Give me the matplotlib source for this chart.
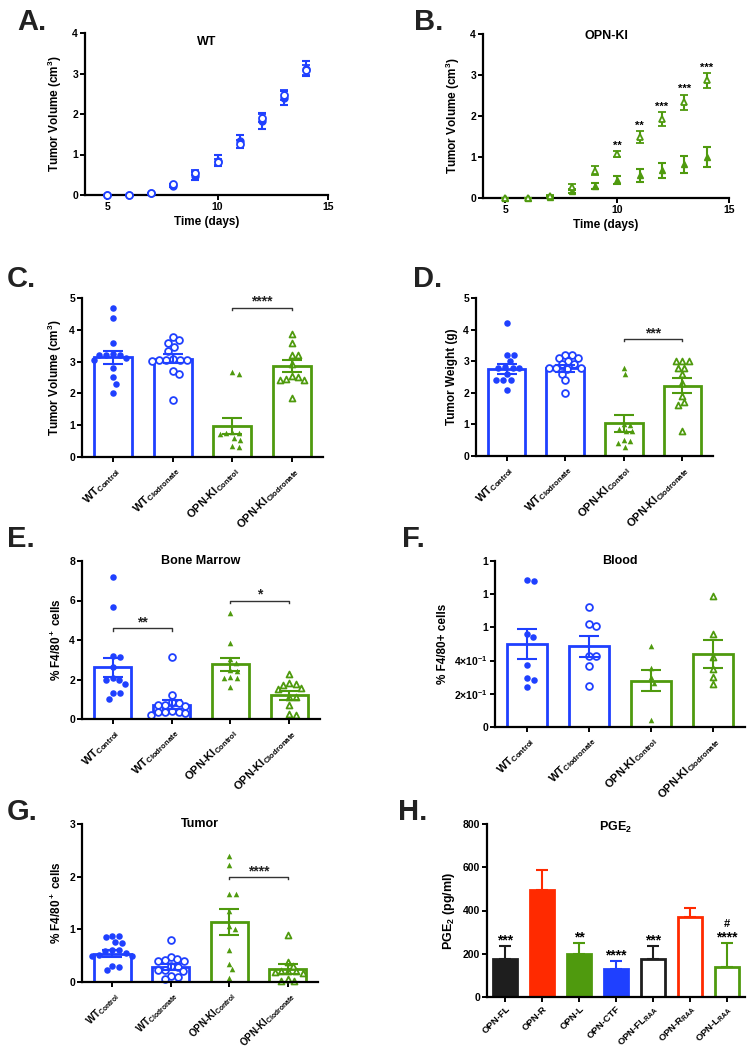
import numpy as np
import matplotlib
matplotlib.use("Agg")
import matplotlib.pyplot as plt

# Fuentes (todo en negrita, estilo GraphPad)
plt.rcParams['font.family'] = ['Liberation Sans', 'DejaVu Sans']
plt.rcParams['font.weight'] = 'bold'
plt.rcParams['axes.labelweight'] = 'bold'
plt.rcParams['mathtext.fontset'] = 'custom'
plt.rcParams['mathtext.rm'] = 'Liberation Sans:bold'
plt.rcParams['mathtext.bf'] = 'Liberation Sans:bold'
plt.rcParams['mathtext.it'] = 'Liberation Sans:bold:italic'
plt.rcParams['mathtext.default'] = 'rm'

AZUL = '#1f40ff'
VERDE = '#4f9a0e'
ROJO = '#ff2a00'
NEGRO = '#1e1e1e'

# ---------------- Datos ----------------
# A / B: crecimiento tumoral
dias = [5, 6, 7, 8, 9, 10, 11, 12, 13, 14]
wt_control_vol = [0, 0, 0.05, 0.22, 0.48, 0.85, 1.33, 1.82, 2.40, 3.12]
wt_control_sem = [0, 0, 0.01, 0.03, 0.10, 0.13, 0.16, 0.20, 0.18, 0.19]
wt_clod_vol = [0, 0, 0.04, 0.26, 0.55, 0.82, 1.26, 1.90, 2.47, 3.08]
wt_clod_sem = [0, 0, 0.01, 0.02, 0.06, 0.07, 0.10, 0.10, 0.12, 0.12]
ki_control_vol = [0, 0, 0.03, 0.16, 0.30, 0.44, 0.55, 0.68, 0.82, 1.00]
ki_control_sem = [0, 0, 0.01, 0.04, 0.07, 0.09, 0.15, 0.18, 0.21, 0.25]
ki_clod_vol = [0, 0, 0.05, 0.28, 0.67, 1.07, 1.48, 1.93, 2.33, 2.87]
ki_clod_sem = [0, 0, 0.02, 0.05, 0.12, 0.08, 0.15, 0.17, 0.19, 0.18]
ki_sig = ['', '', '', '', '', '**', '**', '***', '***', '***']

grupos = [r'WT$_{Control}$', r'WT$_{Clodronate}$',
          r'OPN-KI$_{Control}$', r'OPN-KI$_{Clodronate}$']

# C: volumen tumoral (cm3)
c_wt_control = [4.7, 4.38, 3.58, 3.25, 3.22, 3.2, 3.2, 3.12, 3.05, 2.8, 2.5, 2.3, 2.02]
c_wt_clod = [3.76, 3.69, 3.6, 3.47, 3.33, 3.08, 3.06, 3.05, 3.05, 3.04, 3.03, 2.7, 2.6, 1.8]
c_ki_control = [2.68, 2.62, 0.8, 0.76, 0.74, 0.72, 0.6, 0.55, 0.36, 0.3]
c_ki_clod = [3.88, 3.57, 3.22, 3.22, 2.93, 2.55, 2.5, 2.45, 2.43, 2.43, 1.85]
c_media = [3.13, 3.09, 0.98, 2.86]
c_sem = [0.20, 0.14, 0.26, 0.20]

# D: peso tumoral (g)
d_wt_control = [4.2, 3.2, 3.2, 3.0, 2.82, 2.8, 2.8, 2.78, 2.6, 2.42, 2.4, 2.4, 2.1]
d_wt_clod = [3.2, 3.2, 3.1, 3.1, 3.0, 2.9, 2.9, 2.8, 2.8, 2.78, 2.75, 2.6, 2.4, 2.0]
d_ki_control = [2.8, 2.6, 1.0, 0.98, 0.85, 0.8, 0.78, 0.5, 0.48, 0.4, 0.3]
d_ki_clod = [3.0, 3.0, 3.0, 2.8, 2.8, 2.6, 2.3, 1.9, 1.7, 1.6, 0.8]
d_media = [2.76, 2.77, 1.03, 2.23]
d_sem = [0.15, 0.10, 0.26, 0.23]

# E: medula osea (% F4/80+)
e_wt_control = [7.2, 5.65, 3.2, 3.15, 2.65, 2.1, 1.97, 1.95, 1.78, 1.3, 1.3, 1.0]
e_wt_clod = [3.15, 1.22, 0.85, 0.82, 0.72, 0.7, 0.68, 0.38, 0.36, 0.35, 0.33, 0.28, 0.2]
e_ki_control = [5.35, 3.85, 3.05, 2.85, 2.5, 2.45, 2.15, 2.1, 2.1, 1.6]
e_ki_clod = [2.3, 1.82, 1.75, 1.72, 1.55, 1.52, 1.12, 1.1, 0.72, 0.25, 0.22]
e_media = [2.61, 0.73, 2.77, 1.20]
e_sem = [0.48, 0.24, 0.33, 0.22]

# F: sangre (% F4/80+)
f_wt_control = [0.88, 0.885, 0.56, 0.54, 0.375, 0.295, 0.285, 0.24]
f_wt_clod = [0.72, 0.62, 0.61, 0.43, 0.43, 0.37, 0.25]
f_ki_control = [0.49, 0.355, 0.3, 0.265, 0.04]
f_ki_clod = [0.79, 0.56, 0.42, 0.35, 0.3, 0.26]
f_media = [0.50, 0.485, 0.28, 0.44]
f_sem = [0.093, 0.063, 0.062, 0.083]
f_yticklabels = ['0', r'2×10$^{-1}$', r'4×10$^{-1}$', '1', '1', '1']

# G: tumor (% F4/80+)
g_wt_control = [0.88, 0.87, 0.85, 0.76, 0.75, 0.6, 0.6, 0.58, 0.55, 0.52, 0.5, 0.5, 0.3, 0.29, 0.22]
g_wt_clod = [0.8, 0.48, 0.44, 0.42, 0.4, 0.4, 0.3, 0.28, 0.22, 0.22, 0.2, 0.12, 0.1, 0.05]
g_ki_control = [2.4, 2.22, 1.68, 1.68, 1.35, 1.07, 1.0, 0.6, 0.35, 0.24, 0.08]
g_ki_clod = [0.9, 0.38, 0.3, 0.2, 0.2, 0.2, 0.19, 0.18, 0.05, 0.02, 0.02]
g_media = [0.54, 0.29, 1.14, 0.25]
g_sem = [0.06, 0.06, 0.24, 0.09]

# H: PGE2 (pg/ml)
h_grupos = ['OPN-FL', 'OPN-R', 'OPN-L', 'OPN-CTF',
            r'OPN-FL$_{RAA}$', r'OPN-R$_{RAA}$', r'OPN-L$_{RAA}$']
h_media = [178, 495, 200, 129, 177, 369, 138]
h_sem = [59, 90, 49, 37, 57, 42, 111]
h_sig = ['***', '', '**', '****', '***', '', '****']
h_hash = ['', '', '', '', '', '', '#']
h_colores = [NEGRO, ROJO, VERDE, AZUL, NEGRO, ROJO, VERDE]
h_relleno = [True, True, True, True, False, False, False]

# ---------------- Figura ----------------
fig = plt.figure(figsize=(7.55, 10.5), dpi=100)
W, H = 755, 1050


def ejes(izq, der, abajo, arriba):
    return fig.add_axes([izq / W, 1 - abajo / H, (der - izq) / W, (abajo - arriba) / H])


def estilo(ax):
    for s in ['top', 'right']:
        ax.spines[s].set_visible(False)
    for s in ['left', 'bottom']:
        ax.spines[s].set_linewidth(1.6)
    ax.tick_params(width=1.4, length=3.5, labelsize=7.5, pad=1.5)


def enjambre(valores, ax, d=7.0):
    # desplazamientos tipo beeswarm, en pixeles -> unidades de datos
    pos = ax.get_position()
    y0, y1 = ax.get_ylim()
    x0, x1 = ax.get_xlim()
    py = pos.height * H / (y1 - y0)
    px = pos.width * W / (x1 - x0)
    valores = np.asarray(valores, dtype=float)
    offs = np.zeros(len(valores))
    colocados = []
    for i in np.argsort(-valores, kind='stable'):
        y = valores[i] * py
        cands = [0.0]
        for xj, yj in colocados:
            dy = y - yj
            if abs(dy) < d:
                dx = np.sqrt(d * d - dy * dy)
                cands += [xj + dx, xj - dx]
        cands.sort(key=abs)
        for c in cands:
            if all((c - xj) ** 2 + (y - yj) ** 2 >= d * d - 1e-6 for xj, yj in colocados):
                break
        colocados.append((c, y))
        offs[i] = c / px
    return offs


def corchete(ax, x1, x2, y, texto):
    y0, y1 = ax.get_ylim()
    t = 0.015 * (y1 - y0)
    ax.plot([x1, x1, x2, x2], [y - t, y, y, y - t], color='#333333', lw=1.0, clip_on=False)
    ax.text((x1 + x2) / 2, y + 0.01 * (y1 - y0), texto, ha='center', va='baseline',
            fontsize=10, color='#222222')


def panel_barras(ax, puntos, medias, sems, ylim, yticks, ylabel, titulo=None, tam=8):
    colores = [AZUL, AZUL, VERDE, VERDE]
    marcadores = ['o', 'o', '^', '^']
    rellenos = [True, False, True, False]
    x = np.arange(4)
    ax.set_xlim(-0.52, 3.52)
    ax.set_ylim(*ylim)
    ax.bar(x, medias, width=0.64, color='white', edgecolor=colores, linewidth=2.0, zorder=1)
    for i in range(4):
        offs = enjambre(puntos[i], ax, d=7.0 if marcadores[i] == 'o' else 6.5)
        if rellenos[i]:
            ax.scatter(x[i] + offs, puntos[i], s=22 if marcadores[i] == 'o' else 16,
                       marker=marcadores[i], color=colores[i], linewidths=0, zorder=2, clip_on=False)
        else:
            ax.scatter(x[i] + offs, puntos[i], s=24 if marcadores[i] == 'o' else 18,
                       marker=marcadores[i], facecolors='white', edgecolors=colores[i],
                       linewidths=1.3, zorder=2, clip_on=False)
        ax.errorbar(x[i], medias[i], yerr=sems[i], color=colores[i], capsize=7,
                    elinewidth=1.5, capthick=1.5, zorder=3, fmt='none')
    estilo(ax)
    ax.set_yticks(yticks)
    ax.set_xticks(x)
    ax.set_xticklabels(grupos, rotation=45, ha='right', rotation_mode='anchor', fontsize=tam)
    ax.set_ylabel(ylabel, fontsize=8.5, labelpad=4)
    if titulo:
        ax.text(0.5, 1.0, titulo, transform=ax.transAxes, ha='center', va='center', fontsize=9)


# --- A: WT ---
axA = ejes(85, 328, 195, 33)
axA.errorbar(dias, wt_control_vol, yerr=wt_control_sem, fmt='o', color=AZUL, ms=5,
             capsize=3, elinewidth=1.5, capthick=1.5, clip_on=False, zorder=3)
axA.errorbar(dias, wt_clod_vol, yerr=wt_clod_sem, fmt='o', color=AZUL, ms=5, mfc='white',
             mew=1.3, capsize=3, elinewidth=1.5, capthick=1.5, clip_on=False, zorder=4)
axA.set_xlim(4, 15)
axA.set_ylim(0, 4)
axA.set_xticks([5, 10, 15])
axA.set_yticks([0, 1, 2, 3, 4])
estilo(axA)
axA.set_xlabel('Time (days)', fontsize=8.5, labelpad=3)
axA.set_ylabel(r'Tumor Volume (cm$^3$)', fontsize=8.5, labelpad=6)
axA.text(0.5, 0.945, 'WT', transform=axA.transAxes, ha='center', va='center', fontsize=9)

# --- B: OPN-KI ---
axB = ejes(483, 729, 198, 34)
axB.errorbar(dias, ki_control_vol, yerr=ki_control_sem, fmt='^', color=VERDE, ms=4,
             capsize=3, elinewidth=1.5, capthick=1.5, clip_on=False, zorder=3)
axB.errorbar(dias, ki_clod_vol, yerr=ki_clod_sem, fmt='^', color=VERDE, ms=5, mfc='white',
             mew=1.3, capsize=3, elinewidth=1.5, capthick=1.5, clip_on=False, zorder=4)
for d, m, s, t in zip(dias, ki_clod_vol, ki_clod_sem, ki_sig):
    if t:
        axB.text(d, m + s + 0.06, t, ha='center', va='baseline', fontsize=8)
axB.set_xlim(4, 15)
axB.set_ylim(0, 4)
axB.set_xticks([5, 10, 15])
axB.set_yticks([0, 1, 2, 3, 4])
estilo(axB)
axB.set_xlabel('Time (days)', fontsize=8.5, labelpad=3)
axB.set_ylabel(r'Tumor Volume (cm$^3$)', fontsize=8.5, labelpad=6)
axB.text(0.5, 0.99, 'OPN-KI', transform=axB.transAxes, ha='center', va='center', fontsize=9)

# --- C ---
axC = ejes(82, 323, 457, 298)
panel_barras(axC, [c_wt_control, c_wt_clod, c_ki_control, c_ki_clod], c_media, c_sem,
             (0, 5), [0, 1, 2, 3, 4, 5], r'Tumor Volume (cm$^3$)')
corchete(axC, 2, 3, 4.7, '****')

# --- D ---
axD = ejes(476, 713, 456, 298)
panel_barras(axD, [d_wt_control, d_wt_clod, d_ki_control, d_ki_clod], d_media, d_sem,
             (0, 5), [0, 1, 2, 3, 4, 5], 'Tumor Weight (g)')
corchete(axD, 2, 3, 3.7, '***')

# --- E ---
axE = ejes(82, 320, 719, 561)
panel_barras(axE, [e_wt_control, e_wt_clod, e_ki_control, e_ki_clod], e_media, e_sem,
             (0, 8), [0, 2, 4, 6, 8], r'% F4/80$^+$ cells', 'Bone Marrow')
corchete(axE, 0, 1, 4.6, '**')
corchete(axE, 2, 3, 6.0, '*')

# --- F ---
axF = ejes(495, 745, 727, 561)
panel_barras(axF, [f_wt_control, f_wt_clod, f_ki_control, f_ki_clod], f_media, f_sem,
             (0, 1.0), [0, 0.2, 0.4, 0.6, 0.8, 1.0], '% F4/80+ cells', 'Blood')
axF.set_yticklabels(f_yticklabels)

# --- G ---
axG = ejes(82, 318, 982, 824)
panel_barras(axG, [g_wt_control, g_wt_clod, g_ki_control, g_ki_clod], g_media, g_sem,
             (0, 3), [0, 1, 2, 3], r'% F4/80$^+$ cells', 'Tumor', tam=7)
corchete(axG, 2, 3, 2.0, '****')

# --- H ---
axH = ejes(487, 745, 997, 824)
xh = np.arange(len(h_media))
caras = [c if r else 'white' for c, r in zip(h_colores, h_relleno)]
axH.bar(xh, h_media, width=0.65, color=caras, edgecolor=h_colores, linewidth=2.0, zorder=1)
for i in range(len(h_media)):
    axH.errorbar(xh[i], h_media[i], yerr=[[0], [h_sem[i]]], fmt='none', ecolor=h_colores[i],
                 capsize=4, elinewidth=1.5, capthick=1.5, zorder=2)
    tope = h_media[i] + h_sem[i]
    if h_sig[i]:
        axH.text(xh[i], tope + 8, h_sig[i], ha='center', va='baseline', fontsize=10)
    if h_hash[i]:
        axH.text(xh[i], tope + 75, h_hash[i], ha='center', va='baseline', fontsize=8)
axH.set_xlim(-0.5, 6.5)
axH.set_ylim(0, 800)
axH.set_yticks([0, 200, 400, 600, 800])
estilo(axH)
axH.set_xticks(xh)
axH.set_xticklabels(h_grupos, rotation=45, ha='right', rotation_mode='anchor', fontsize=6.8)
axH.set_ylabel(r'PGE$_2$ (pg/ml)', fontsize=9, labelpad=4)
axH.text(0.5, 0.98, r'PGE$_2$', transform=axH.transAxes, ha='center', va='center', fontsize=9)

# Letras de los paneles
letras = [('A.', 17, 30), ('B.', 414, 30), ('C.', 7, 287), ('D.', 413, 287),
          ('E.', 7, 547), ('F.', 402, 547), ('G.', 7, 820), ('H.', 398, 820)]
for txt, lx, ly in letras:
    fig.text(lx / W, 1 - ly / H, txt, fontsize=21, fontweight='bold', va='baseline', color='#222222')

fig.savefig('out.png', dpi=100)
